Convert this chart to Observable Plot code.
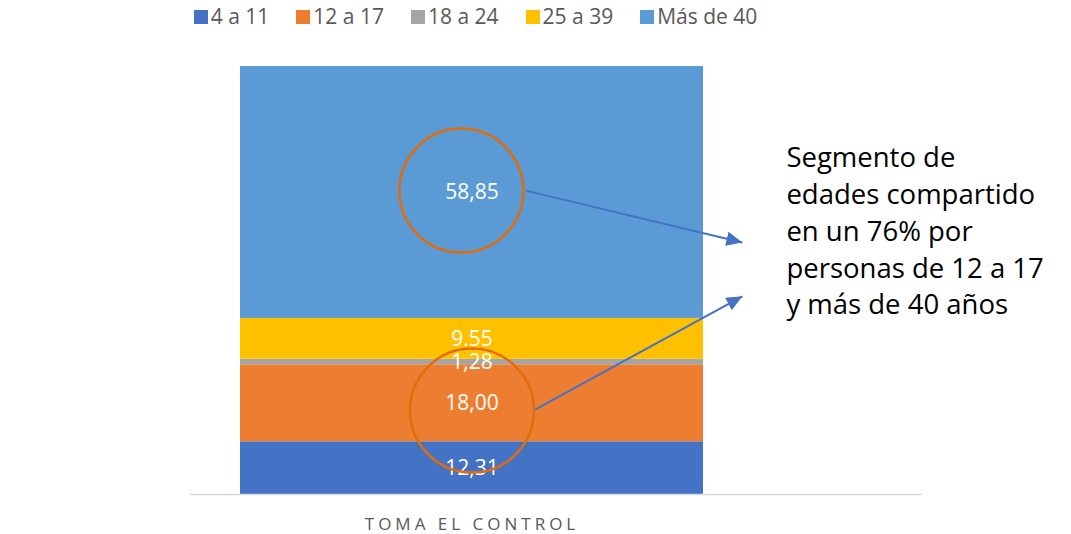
<!DOCTYPE html>
<html>
<head>
<meta charset="utf-8">
<script src="https://cdn.jsdelivr.net/npm/d3@7"></script>
<script src="https://cdn.jsdelivr.net/npm/@observablehq/plot@0.6"></script>
<style>
  html, body { margin: 0; padding: 0; background: #fff; }
  body { width: 1071px; height: 534px; overflow: hidden; font-family: 'Open Sans', sans-serif; }
  #legend { box-sizing: border-box; height: 34px; padding-bottom: 1px; width: 951px; display: flex; justify-content: center; align-items: center; gap: 27px; font-size: 21px; line-height: 1; color: #595959; }
  #legend .item { display: flex; align-items: center; white-space: nowrap; }
  #legend .sw { width: 14px; height: 14px; margin-right: 3px; display: inline-block; }
  #chart svg { display: block; }
</style>
</head>
<body>
<div id="legend"></div>
<div id="chart"></div>
<script>
// ---- data ----
const groups = ["4 a 11", "12 a 17", "18 a 24", "25 a 39", "Más de 40"];
const values = [12.31, 18.00, 1.28, 9.55, 58.85];
const labels = ["12,31", "18,00", "1,28", "9.55", "58,85"];
const colors = ["#4472C4", "#ED7D31", "#A5A5A5", "#FFC000", "#5B9BD5"];
const category = "TOMA EL CONTROL";
const note = "Segmento de\nedades compartido\nen un 76% por\npersonas de 12 a 17\ny más de 40 años";

// annotation anchors in data units (x: 0..1 across the bar, y: percent)
const circles = [
  {x: 0.477, y: 71.0},
  {x: 0.5, y: 19.6}
];
const arrows = [
  {x1: 0.616, y1: 71.0, x2: 1.084, y2: 58.9},
  {x1: 0.637, y1: 19.9, x2: 1.084, y2: 46.3}
];
const noteAnchor = [{x: 1.179, y: 62.05, text: note}];

const data = groups.map((g, i) => ({group: g, value: values[i], label: labels[i]}));

// ---- legend ----
const legend = document.getElementById("legend");
groups.forEach((g, i) => {
  const it = document.createElement("span");
  it.className = "item";
  const sw = document.createElement("span");
  sw.className = "sw";
  sw.style.background = colors[i];
  it.appendChild(sw);
  it.appendChild(document.createTextNode(g));
  legend.appendChild(it);
});

// ---- chart ----
const chart = Plot.plot({
  width: 1071,
  height: 500,
  marginTop: 32,
  marginBottom: 40,
  marginLeft: 190,
  marginRight: 149,
  style: {fontFamily: "'Open Sans', sans-serif", background: "#fff"},
  x: {domain: [0, 1], range: [240, 703], axis: null},
  y: {domain: [0, 100], axis: null},
  color: {domain: groups, range: colors},
  marks: [
    Plot.rectY(data, Plot.stackY({x1: () => 0, x2: () => 1, y: "value", fill: "group"})),
    Plot.ruleY([0], {stroke: "#D9D9D9", strokeWidth: 1.5}),
    Plot.text(data, Plot.stackY({x: () => 0.5, y: "value", z: "group", text: "label", fill: "white", fontSize: 21})),
    Plot.dot(circles, {x: "x", y: "y", r: 62, stroke: "#E36C0A", strokeWidth: 2.5, fill: "none"}),
    Plot.link(arrows, {x1: "x1", y1: "y1", x2: "x2", y2: "y2", stroke: "#4472C4", strokeWidth: 2, markerEnd: "arrow"}),
    Plot.text(noteAnchor, {x: "x", y: "y", text: "text", textAnchor: "start", lineAnchor: "middle", fontSize: 27.5, lineHeight: 1.34, fill: "#000"}),
    Plot.text([category], {x: () => 0.5, y: () => 0, dy: 30, text: d => d, fontSize: 17, fill: "#595959"})
  ]
});
document.getElementById("chart").appendChild(chart);

// filled arrowheads
chart.querySelectorAll("marker").forEach(m => {
  m.setAttribute("viewBox", "-10 -5 10 10");
  m.setAttribute("markerWidth", 8);
  m.setAttribute("markerHeight", 8);
  m.setAttribute("refX", 0);
  m.setAttribute("refY", 0);
  m.setAttribute("fill", "#4472C4");
  m.setAttribute("stroke", "none");
  m.innerHTML = "";
  const p = document.createElementNS("http://www.w3.org/2000/svg", "path");
  p.setAttribute("d", "M-10,-4.5L0,0L-10,4.5Z");
  p.setAttribute("fill", "#4472C4");
  p.setAttribute("stroke", "none");
  m.appendChild(p);
});
// letter spacing for the category label
chart.querySelectorAll("text").forEach(t => {
  if (t.textContent === category) t.setAttribute("letter-spacing", "4");
});
</script>
</body>
</html>
